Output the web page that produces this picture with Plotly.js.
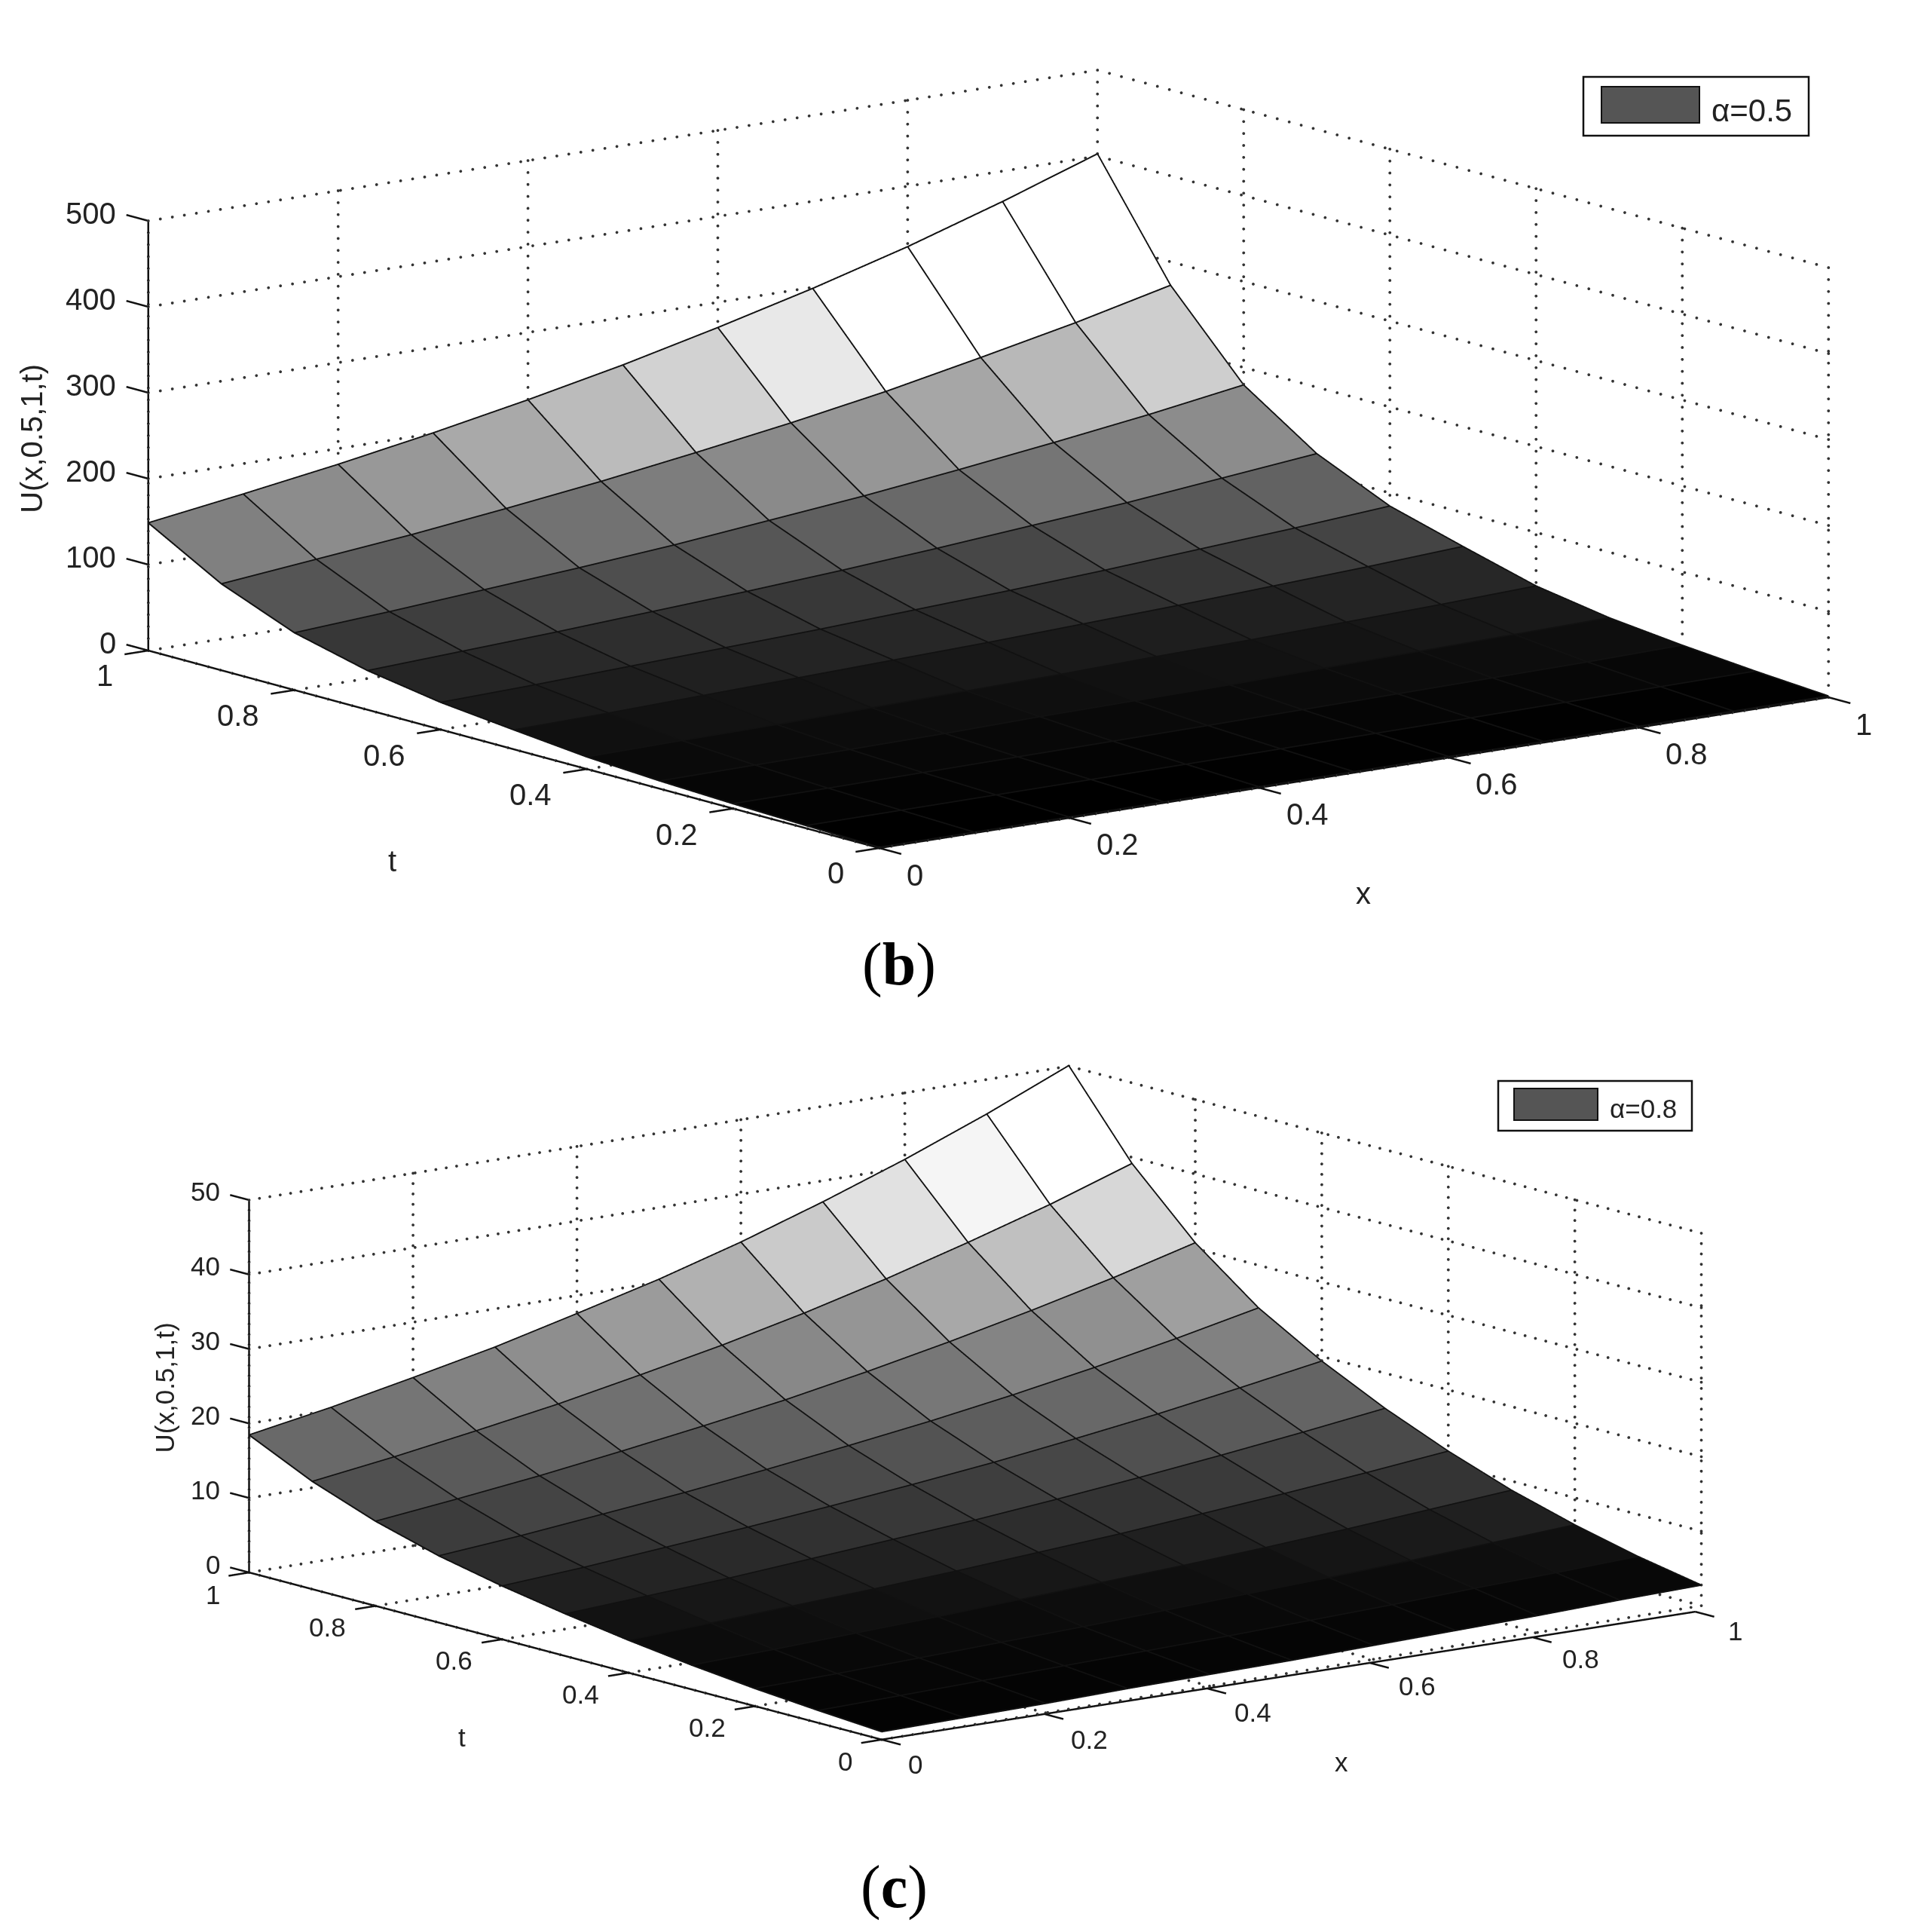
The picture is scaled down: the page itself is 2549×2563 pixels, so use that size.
<!DOCTYPE html>
<html><head><meta charset="utf-8">
<script src="https://cdn.plot.ly/plotly-3.0.1.min.js"></script>
<style>html,body{margin:0;padding:0;background:#fff}</style></head>
<body><div id="plot" style="width:2549px;height:2563px"></div>
<script>
const xValues=[0,0.1,0.2,0.3,0.4,0.5,0.6,0.7,0.8,0.9,1];
const tValues=[0,0.1,0.2,0.3,0.4,0.5,0.6,0.7,0.8,0.9,1];
const xyTicks=[0,0.2,0.4,0.6,0.8,1];
const xyTickLabels=['0','0.2','0.4','0.6','0.8','1'];
const zTicksB=[0,100,200,300,400,500];
const zTicksC=[0,10,20,30,40,50];
const seriesB=[
[0.3,0.3,0.4,0.4,0.5,0.5,0.6,0.6,0.7,0.8,0.9],
[2.5,2.8,3.1,3.4,3.7,4.1,4.6,5.0,5.6,6.2,6.8],
[5,5.5,6.1,6.8,7.5,8.2,9.1,10,11,12,14],
[8.5,9.4,10,11,13,14,15,17,19,21,23],
[13.5,15,16,18,20,22,25,27,30,33,37],
[22,24,27,30,33,36,40,44,49,54,60],
[31,34,38,42,46,51,56,62,69,76,84],
[45,50,55,61,67,74,82,91,100,111,122],
[66,73,81,89,98,109,120,133,147,162,179],
[100,111,122,135,149,165,182,201,223,246,272],
[148,164,181,200,221,244,270,298,329,364,402]];
const seriesC=[
[1,1.1,1.2,1.4,1.5,1.6,1.8,2.0,2.2,2.5,2.7],
[1.6,1.8,2.0,2.2,2.4,2.6,2.9,3.2,3.6,3.9,4.3],
[2.3,2.5,2.8,3.1,3.4,3.8,4.2,4.6,5.1,5.7,6.3],
[3.2,3.5,3.9,4.3,4.8,5.3,5.8,6.4,7.1,7.9,8.7],
[4.3,4.8,5.3,5.8,6.4,7.1,7.8,8.7,9.6,10.6,11.7],
[5.6,6.2,6.8,7.6,8.4,9.2,10.2,11.3,12.5,13.8,15.2],
[7.1,7.8,8.7,9.6,10.6,11.7,12.9,14.3,15.8,17.5,19.3],
[8.9,9.8,10.9,12,13.3,14.7,16.2,17.9,19.8,21.9,24.2],
[11.3,12.5,13.8,15.3,16.9,18.6,20.6,22.8,25.2,27.8,30.7],
[14.4,15.9,17.6,19.4,21.5,23.7,26.2,29,32.1,35.4,39.1],
[18.4,20.3,22.5,24.8,27.5,30.3,33.5,37.1,41,45.3,50]];
const grayStopsB=[[0,0],[32,38],[45,55],[66,85],[100,128],[122,152],[149,187],[165,210],[182,232],[200,255]];
const grayStopsC=[[0,0],[2.5,8],[4.3,18],[7.1,45],[8.9,60],[11.3,80],[14.4,105],[17.6,130],[21.5,155],[26,200],[29,225],[32,245],[35.4,255]];

const W=2549,H=2563;
const PAD=0.05, ZPAD=0.02;
const DOTS={x:79,t:61,z:36};

function grayOf(z,stops){
  if(z>=stops[stops.length-1][0]) return stops[stops.length-1][1];
  for(let i=1;i<stops.length;i++){ if(z<=stops[i][0]){
    const a=stops[i-1],b=stops[i]; return a[1]+(b[1]-a[1])*(z-a[0])/(b[0]-a[0]); } }
  return 0;
}
function panelTraces(zs,zTicks,stops,sceneId,ruler){
  const zMax=zTicks[zTicks.length-1], n=xValues.length, m=tValues.length, eps=zMax*0.0012;
  const vx=[],vy=[],vz=[],I=[],J=[],K=[],fc=[];
  for(let j=0;j<m;j++)for(let i=0;i<n;i++){vx.push(xValues[i]);vy.push(tValues[j]);vz.push(zs[j][i]);}
  for(let j=0;j<m-1;j++)for(let i=0;i<n-1;i++){
    const a=j*n+i,b=a+1,c=a+n,d=c+1;
    const g=Math.round(grayOf(zs[j][i],stops)), col=`rgb(${g},${g},${g})`;
    I.push(a,a);J.push(b,d);K.push(d,c);fc.push(col,col);
  }
  const mesh={type:'mesh3d',scene:sceneId,x:vx,y:vy,z:vz,i:I,j:J,k:K,facecolor:fc,flatshading:true,hoverinfo:'skip',
    lighting:{ambient:1,diffuse:0,specular:0,fresnel:0,roughness:1},showscale:false};
  const lx=[],ly=[],lz=[];
  for(let j=0;j<m;j++){for(let i=0;i<n;i++){lx.push(xValues[i]);ly.push(tValues[j]);lz.push(zs[j][i]+eps);}lx.push(null);ly.push(null);lz.push(null);}
  for(let i=0;i<n;i++){for(let j=0;j<m;j++){lx.push(xValues[i]);ly.push(tValues[j]);lz.push(zs[j][i]+eps);}lx.push(null);ly.push(null);lz.push(null);}
  const wire={type:'scatter3d',mode:'lines',scene:sceneId,x:lx,y:ly,z:lz,line:{color:'#111',width:4},hoverinfo:'skip',showlegend:false};
  const gx=[],gy=[],gz=[];
  const seg=(a,b,c)=>{for(let k=0;k<=c;k++){const f=k/c;gx.push(a[0]+(b[0]-a[0])*f);gy.push(a[1]+(b[1]-a[1])*f);gz.push(a[2]+(b[2]-a[2])*f);}};
  xyTicks.forEach(v=>{seg([v,1,0],[v,1,zMax],DOTS.z);seg([1,v,0],[1,v,zMax],DOTS.z);seg([v,0,0],[v,1,0],DOTS.t);seg([0,v,0],[1,v,0],DOTS.x);});
  zTicks.forEach(v=>{seg([0,1,v],[1,1,v],DOTS.x);seg([1,1,v],[1,0,v],DOTS.t);});
  const grid={type:'scatter3d',mode:'markers',scene:sceneId,x:gx,y:gy,z:gz,marker:{color:'#333',size:2.2,symbol:'circle',line:{width:0}},hoverinfo:'skip',showlegend:false};
  const ax=[],ay=[],az=[];
  const seg2=(a,b)=>{ax.push(a[0],b[0],null);ay.push(a[1],b[1],null);az.push(a[2],b[2],null);};
  seg2([0,1,0],[0,1,zMax]);seg2([0,0,0],[0,1,0]);seg2([0,0,0],[ruler.x,0,ruler.z]);
  xyTicks.forEach(v=>{seg2([v*ruler.x,0,v*ruler.z],[v*ruler.x,-0.03,v*ruler.z]);seg2([0,v,0],[-0.025,v,0]);});
  zTicks.forEach(v=>seg2([0,1,v],[0,1.03,v]));
  const axes={type:'scatter3d',mode:'lines',scene:sceneId,x:ax,y:ay,z:az,line:{color:'#111',width:5},hoverinfo:'skip',showlegend:false};
  return [grid,mesh,wire,axes];
}
function sceneLayout(px0,px1,py0,py1,zTicks,scale,aspect,eye,fs,o){
  const zMax=zTicks[zTicks.length-1], dist=8;
  const hidden=r=>({range:r,autorange:false,showgrid:false,zeroline:false,showline:false,showbackground:false,showticklabels:false,ticks:'',showspikes:false,title:{text:''}});
  const font={family:'Liberation Sans, Arial, sans-serif',size:fs,color:'#222'};
  const ann=[];
  xyTicks.forEach((v,i)=>{
    const isInt=xyTickLabels[i].length===1;
    ann.push({x:v,y:0,z:0,text:xyTickLabels[i],showarrow:false,font,xshift:isInt?o.xi[0]:o.xd[0],yshift:-(isInt?o.xi[1]:o.xd[1])});
    ann.push({x:0,y:v,z:0,text:xyTickLabels[i],showarrow:false,font,xshift:isInt?o.ti[0]:o.td[0],yshift:-(isInt?o.ti[1]:o.td[1])});
  });
  zTicks.forEach(v=>ann.push({x:0,y:1,z:v,text:String(v),showarrow:false,font,xanchor:'right',xshift:o.z[0],yshift:o.z[1]}));
  ann.push({x:0.5,y:0,z:0,text:'x',showarrow:false,font,xshift:o.xt[0],yshift:-o.xt[1]});
  ann.push({x:0,y:0.5,z:0,text:'t',showarrow:false,font,xshift:o.tt[0],yshift:-o.tt[1]});
  ann.push({x:0,y:1,z:zMax/2,text:'U(x,0.5,1,t)',showarrow:false,font,textangle:-90,xshift:o.u[0],yshift:-o.u[1]});
  return {
    domain:{x:[px0/W,px1/W],y:[1-py1/H,1-py0/H]},
    aspectmode:'manual',aspectratio:{x:aspect.x*scale*(1+2*PAD),y:aspect.y*scale*(1+2*PAD),z:aspect.z*scale*(1+2*ZPAD)},
    camera:{projection:{type:'orthographic'},up:{x:0,y:0,z:1},center:{x:0,y:0,z:0},eye:{x:eye[0]*dist,y:eye[1]*dist,z:eye[2]*dist}},
    xaxis:hidden([-PAD,1+PAD]),yaxis:hidden([-PAD,1+PAD]),zaxis:hidden([-ZPAD*zMax,(1+ZPAD)*zMax]),
    annotations:ann,dragmode:false
  };
}
const rectS=(x0,y0,x1,y1,fill,lw)=>({type:'rect',xref:'paper',yref:'paper',x0:x0/W,x1:x1/W,y0:1-y0/H,y1:1-y1/H,fillcolor:fill,line:{color:'#111',width:lw},layer:'above'});
const paperText=(x,y,text,size,family,color)=>({xref:'paper',yref:'paper',x:x/W,y:1-y/H,text,showarrow:false,font:{family,size,color},xanchor:'center',yanchor:'middle'});
const sans='Liberation Sans, Arial, sans-serif', serif='Liberation Serif, serif';
const layout={
  width:W,height:H,margin:{l:0,r:0,t:0,b:0},paper_bgcolor:'#fff',showlegend:false,hovermode:false,
  scene:sceneLayout(74,2549,9,1209,zTicksB,2.657,{x:0.9955,y:1,z:0.3655},[-0.595,-0.776,0.207],40,{xd:[64,35],xi:[47,36],td:[-75,34],ti:[-58,33],z:[-41,10],xt:[12,160],tt:[-161,148],u:[-155,4]}),
  scene2:sceneLayout(39,2549,1211,2511,zTicksC,2.089,{x:1.019,y:1,z:0.372},[-0.604,-0.768,0.2075],35,{xd:[58,35],xi:[45,33],td:[-64,28],ti:[-48,29],z:[-37,11],xt:[66,119],tt:[-137,108],u:[-112,2]}),
  shapes:[rectS(2101,102,2400,180,'#fff',2.5),rectS(2125,115,2255,163,'#555',2),rectS(1988,1434,2245,1500,'#fff',2.5),rectS(2009,1444,2120,1486,'#555',2)],
  annotations:[paperText(2324,146,'α=0.5',42,sans,'#222'),paperText(2180,1470,'α=0.8',35,sans,'#222'),
    paperText(1193,1279,'(<b>b</b>)',80,serif,'#000'),paperText(1186,2503,'(<b>c</b>)',80,serif,'#000')]
};
const data=[...panelTraces(seriesB,zTicksB,grayStopsB,'scene',{x:1,z:0}),...panelTraces(seriesC,zTicksC,grayStopsC,'scene2',{x:0.9926,z:-0.68})];
Plotly.newPlot('plot',data,layout,{displayModeBar:false,responsive:false});
</script></body></html>
